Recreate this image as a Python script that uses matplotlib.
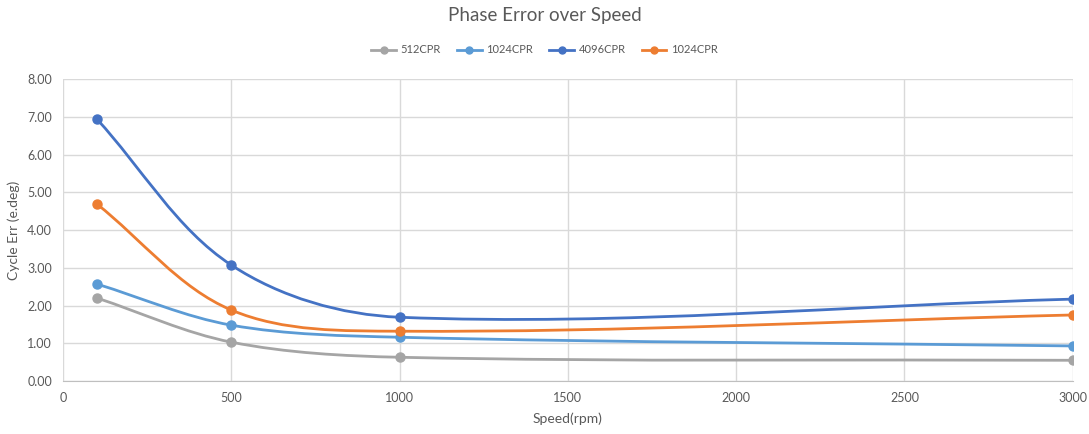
import numpy as np
import matplotlib.pyplot as plt
from matplotlib.path import Path
from matplotlib.patches import PathPatch
from matplotlib.lines import Line2D

plt.rcParams['font.family'] = ['Lato', 'DejaVu Sans']

#############################################################################
# Data
speed = [100, 500, 1000, 3000]
err_512 = [2.20, 1.03, 0.63, 0.55]
err_1024 = [2.57, 1.48, 1.16, 0.93]
err_4096 = [6.94, 3.07, 1.69, 2.17]
err_1024b = [4.69, 1.88, 1.32, 1.75]

series_names = ["512CPR", "1024CPR", "4096CPR", "1024CPR"]
series_values = [err_512, err_1024, err_4096, err_1024b]
series_colors = ["#A5A5A5", "#5B9BD5", "#4472C4", "#ED7D31"]

x_ticks = [0, 500, 1000, 1500, 2000, 2500, 3000]
y_ticks = [0, 1, 2, 3, 4, 5, 6, 7, 8]

# rough pixel scale of the plot area, so the smoothing works on screen shape
SX = 1010 / 3000.0
SY = 302 / 8.0


def smooth_path(xs, ys):
    # smoothed line: cubic bezier segments, handles sized by segment length
    pts = np.column_stack([np.asarray(xs) * SX, np.asarray(ys) * SY])
    n = len(pts)
    tang = []
    for i in range(n):
        a = pts[max(i - 1, 0)]
        b = pts[min(i + 1, n - 1)]
        d = b - a
        tang.append(d / np.linalg.norm(d))
    verts = [pts[0]]
    codes = [Path.MOVETO]
    for i in range(n - 1):
        seg = np.linalg.norm(pts[i + 1] - pts[i])
        c1 = pts[i] + tang[i] * seg / 3.0
        c2 = pts[i + 1] - tang[i + 1] * seg / 3.0
        verts += [c1, c2, pts[i + 1]]
        codes += [Path.CURVE4] * 3
    verts = np.array(verts) / [SX, SY]
    return Path(verts, codes)


fig = plt.figure(figsize=(10.89, 4.34), dpi=100)
ax = fig.add_axes([0.058, 0.122, 0.927, 0.696])

for vals, color in zip(series_values, series_colors):
    ax.add_patch(PathPatch(smooth_path(speed, vals), facecolor='none',
                           edgecolor=color, linewidth=2, zorder=3))
    ax.plot(speed, vals, 'o', color=color, markersize=6.5, zorder=4)

ax.set_xlim(0, 3000)
ax.set_ylim(0, 8)
ax.set_xticks(x_ticks)
ax.set_yticks(y_ticks)
ax.set_yticklabels([f"{v:.2f}" for v in y_ticks])
ax.grid(True, color='#D9D9D9', linewidth=1)
ax.set_axisbelow(True)
ax.tick_params(length=0, labelsize=9, labelcolor='#595959', pad=8)
for side in ['top', 'right', 'left']:
    ax.spines[side].set_visible(False)
ax.spines['bottom'].set_color('#BFBFBF')

ax.set_xlabel("Speed(rpm)", fontsize=10, color='#595959', labelpad=6)
ax.set_ylabel("Cycle Err (e.deg)", fontsize=10, color='#595959', labelpad=5)

fig.suptitle("Phase Error over Speed", x=0.5, y=0.985, fontsize=13.5,
             color='#595959')

handles = [Line2D([0], [0], color=c, marker='o', linewidth=2, markersize=5)
           for c in series_colors]
fig.legend(handles, series_names, loc='center', bbox_to_anchor=(0.5, 0.885),
           ncol=4, frameon=False, fontsize=8, labelcolor='#595959',
           handlelength=2.2, columnspacing=1.5, handletextpad=0.4)

plt.savefig("out.png", dpi=100)
